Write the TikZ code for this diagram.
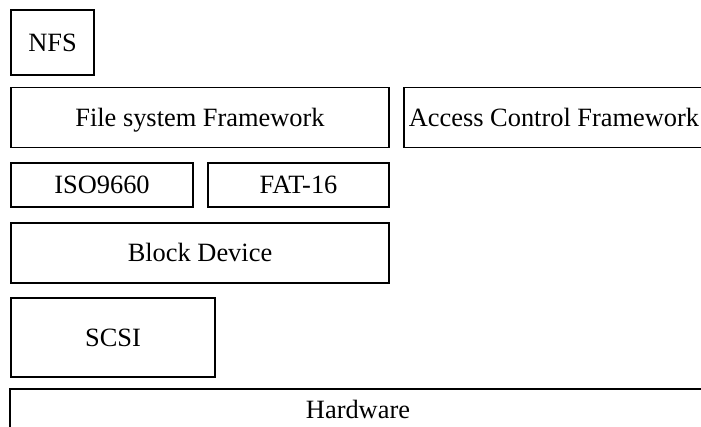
\documentclass[tikz,border=0pt]{standalone}
\usepackage{fontspec}
\setmainfont{Liberation Serif}
\begin{document}
\begin{tikzpicture}[x=0.5pt,y=-0.5pt,
    layer/.style={draw,rectangle,inner sep=0pt,line width=0.65pt,
        text height=0.98em,text depth=0.12em,
        font=\fontsize{13.2}{16}\selectfont}]
            \useasboundingbox (0,0) rectangle (701,427);
            \clip (0,0) rectangle (701,427);

            \node[layer,minimum width=41.5pt,minimum height=32.5pt] (nfs) at (52.5, 42.5) {NFS};
            \node[layer,minimum width=189pt,minimum height=30pt] (fsframe) at (200, 117.5) {File system Framework};
            \node[layer,minimum width=150pt,minimum height=30pt] (acframe) at (554, 117.5) {Access Control Framework};

            \node[layer,minimum width=91pt,minimum height=22pt] (iso) at (102, 185) {ISO9660};
            \node[layer,minimum width=90.5pt,minimum height=22pt] (fat) at (298.5, 185) {FAT-16};

            \node[layer,minimum width=189pt,minimum height=30pt] (block) at (200, 253) {Block Device};
            \node[layer,minimum width=102pt,minimum height=39.5pt] (scsi) at (113, 337.5) {SCSI};
            \node[layer,minimum width=348pt,minimum height=21pt] (hw) at (358, 410) {Hardware};

        \end{tikzpicture}
\end{document}
